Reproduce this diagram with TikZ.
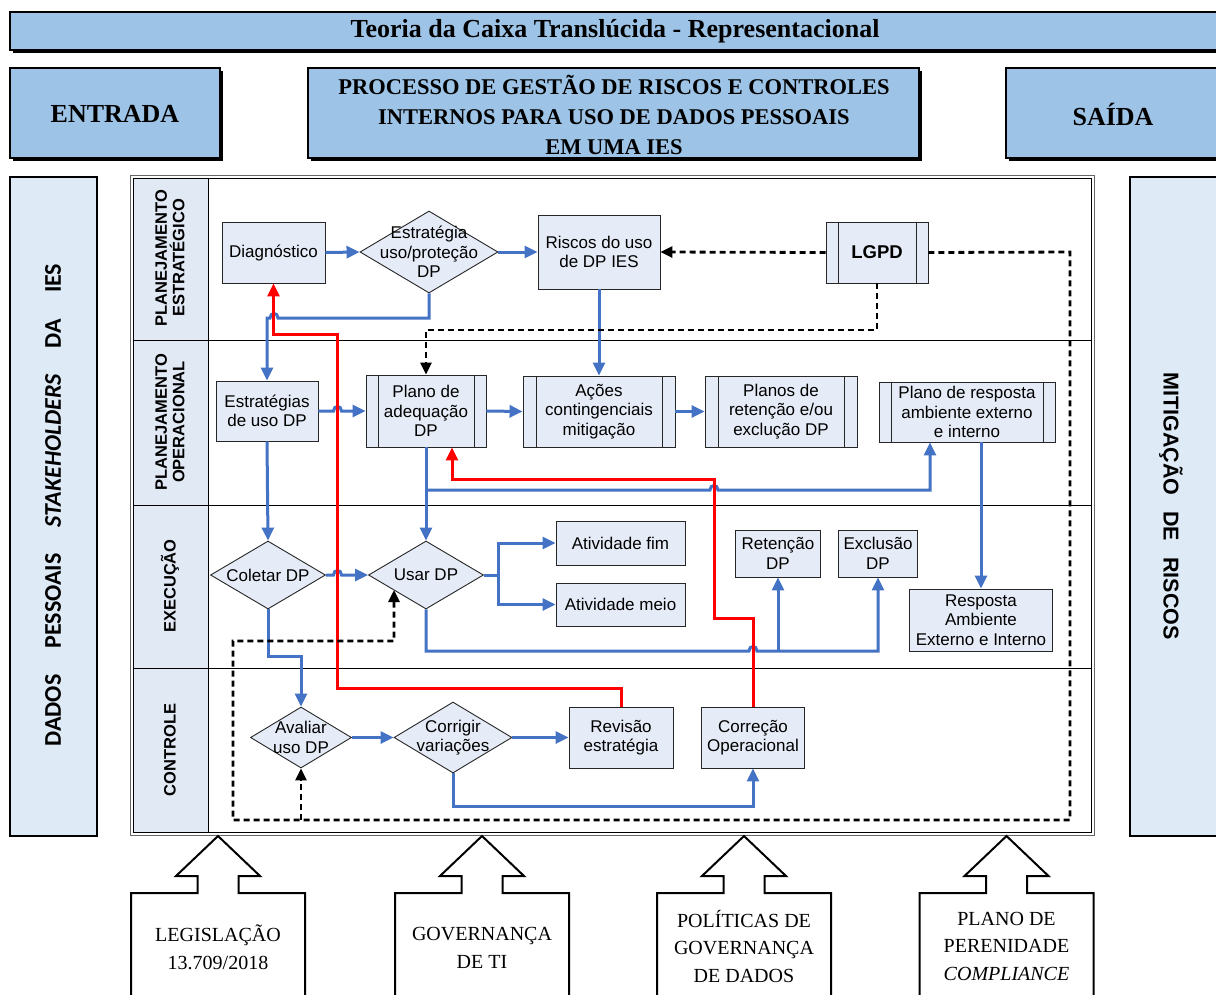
\documentclass[tikz,border=0pt]{standalone}
\usepackage{fontspec}
\setmainfont{Liberation Serif}
\newfontfamily\arialf{Liberation Sans}
\newfontfamily\calibf{Carlito}
\usetikzlibrary{arrows.meta,shapes.geometric}
\definecolor{hdrblue}{RGB}{157,195,230}
\definecolor{sideblue}{RGB}{222,235,247}
\definecolor{nodefill}{RGB}{230,236,247}
\definecolor{lanefill}{RGB}{225,233,245}
\definecolor{flowblue}{RGB}{68,114,196}
\tikzset{
  hdrbox/.style={draw=black, line width=1.2pt, fill=hdrblue},
  sidebox/.style={draw=black, line width=1.8pt, fill=sideblue},
  proc/.style={rectangle, draw=black!85, line width=0.9pt, fill=nodefill, inner sep=0pt, align=center, font=\arialf\fontsize{17}{19.5}\selectfont},
  pp/.style={proc, path picture={
      \draw[black!85, line width=0.9pt] ([xshift=#1]path picture bounding box.north west) -- ([xshift=#1]path picture bounding box.south west)
        ([xshift=-#1]path picture bounding box.north east) -- ([xshift=-#1]path picture bounding box.south east);}},
  pp/.default=12pt,
  dia/.style={diamond, draw=black!85, line width=0.9pt, fill=nodefill, inner sep=0pt},
  dtxt/.style={align=center, inner sep=0pt, font=\arialf\fontsize{17}{19.5}\selectfont},
  flow/.style={draw=flowblue, line width=3pt, -{Triangle[length=13pt,width=12pt]}},
  flowline/.style={draw=flowblue, line width=3pt},
  redline/.style={draw=red, line width=3pt},
  redflow/.style={redline, -{Triangle[length=13pt,width=12pt]}},
  ctl/.style={draw=black, line width=2.8pt, dash pattern=on 6pt off 4pt},
  ctlflow/.style={ctl, -{Triangle[length=12pt,width=11pt]}},
  lanetxt/.style={rotate=90, align=center, font=\arialf\bfseries\fontsize{16.5}{17.5}\selectfont},
  bigarrow/.style={draw=black, line width=2pt, fill=white, line join=miter},
  bottxt/.style={align=center, font=\fontsize{20}{28}\selectfont},
  hdrtxt/.style={align=center, font=\bfseries\fontsize{26}{30}\selectfont},
}
\begin{document}
\begin{tikzpicture}[x=1pt,y=-1pt]
\useasboundingbox (0,0) rectangle (1216,994);
% headers
\fill (13,15) rectangle (1225,53);
\draw[hdrbox] (10,12) rectangle (1222,50);
\node[hdrtxt] (title) at (615,31) {Teoria da Caixa Translúcida - Representacional};
\fill (13,71) rectangle (223,161);
\draw[hdrbox] (10,68) rectangle (220,158);
\node[hdrtxt] (entrada) at (115,114) {ENTRADA};
\fill (311,71) rectangle (922,161);
\draw[hdrbox] (308,68) rectangle (919,158);
\node[align=center, font=\bfseries\fontsize{22.5}{30}\selectfont] (proc) at (614,115) {PROCESSO DE GESTÃO DE RISCOS E CONTROLES\\INTERNOS PARA USO DE DADOS PESSOAIS\\EM UMA IES};
\fill (1009,71) rectangle (1225,161);
\draw[hdrbox] (1006,68) rectangle (1222,158);
\node[hdrtxt] (saida) at (1113,114) {SAÍDA};
% side boxes
\draw[sidebox] (10,177) rectangle (97,836);
\node[rotate=90, font=\calibf\bfseries\fontsize{24}{28}\selectfont] (lefttxt) at (53,505) {DADOS\hspace{26pt}PESSOAIS\hspace{26pt}\textit{STAKEHOLDERS}\hspace{26pt}DA\hspace{26pt}IES};
\draw[sidebox] (1130,177) rectangle (1222,836);
\node[rotate=-90, font=\arialf\bfseries\fontsize{21.5}{24}\selectfont] (righttxt) at (1171,506) {MITIGAÇÃO\hspace{16pt}DE\hspace{16pt}RISCOS};
% pool
\draw[black!60, line width=1pt] (130,175) rectangle (1094,835);
\draw[black, line width=1pt, fill=white] (133,178) rectangle (1091,832);
\draw[black, line width=1pt, fill=lanefill] (133,178) rectangle (208,832);
\foreach \yy in {340,505,668} \draw[black, line width=1pt] (133,\yy) -- (1091,\yy);
\node[lanetxt] (l1) at (170,258) {PLANEJAMENTO\\ESTRATÉGICO};
\node[lanetxt] (l2) at (170,422) {PLANEJAMENTO\\OPERACIONAL};
\node[lanetxt] (l3) at (170,586) {EXECUÇÃO};
\node[lanetxt] (l4) at (170,750) {CONTROLE};
% nodes lane 1
\node[proc, minimum width=103pt, minimum height=61pt] (diag) at (273.5,252.5) {Diagnóstico};
\node[dia, minimum width=138pt, minimum height=82pt] (estr) at (429,252) {};
\node[dtxt] (estrt) at (429,252) {Estratégia\\uso/proteção\\DP};
\node[proc, minimum width=122pt, minimum height=74pt] (riscos) at (599,252) {Riscos do uso\\de DP IES};
\node[pp, minimum width=102pt, minimum height=61pt, font=\arialf\bfseries\fontsize{18.5}{20}\selectfont] (lgpd) at (877,252.5) {LGPD};
% lane 2
\node[proc, minimum width=102pt, minimum height=60pt] (estrat) at (267,411) {Estratégias\\de uso DP};
\node[pp, minimum width=120pt, minimum height=72pt] (plano) at (426,411) {Plano de\\adequação\\DP};
\node[pp=13pt, minimum width=152pt, minimum height=71pt] (acoes) at (599,411.5) {Ações\\contingenciais\\mitigação};
\node[pp=13pt, minimum width=152pt, minimum height=71pt] (planosret) at (781,411.5) {Planos de\\retenção e/ou\\exclução DP};
\node[pp, minimum width=176pt, minimum height=60pt] (planoresp) at (967,412) {Plano de resposta\\ambiente externo\\e interno};
% lane 3
\node[dia, minimum width=115pt, minimum height=68pt] (coletar) at (268,575) {};
\node[dtxt] (coletart) at (268,575) {Coletar DP};
\node[dia, minimum width=115pt, minimum height=68pt] (usar) at (426,575) {};
\node[dtxt] (usart) at (426,575) {Usar DP};
\node[proc, minimum width=129pt, minimum height=44pt] (ativfim) at (620.5,543) {Atividade fim};
\node[proc, minimum width=129pt, minimum height=43pt] (ativmeio) at (620.5,604.5) {Atividade meio};
\node[proc, minimum width=85pt, minimum height=47pt] (retencao) at (778,553.5) {Retenção\\DP};
\node[proc, minimum width=79pt, minimum height=47pt] (exclusao) at (878,553.5) {Exclusão\\DP};
\node[proc, minimum width=143pt, minimum height=62pt] (resposta) at (981,620) {Resposta\\Ambiente\\Externo e Interno};
% lane 4
\node[dia, minimum width=101pt, minimum height=61pt] (avaliar) at (301,737.5) {};
\node[dtxt] (avaliart) at (301,737.5) {Avaliar\\uso DP};
\node[dia, minimum width=118pt, minimum height=71pt] (corrigir) at (453,737.5) {};
\node[dtxt] (corrigirt) at (453,737.5) {Corrigir\\variações};
\node[proc, minimum width=104pt, minimum height=61pt] (revisao) at (621,737.5) {Revisão\\estratégia};
\node[proc, minimum width=103pt, minimum height=61pt] (correcao) at (753,737.5) {Correção\\Operacional};
% blue flows
\draw[flow] (diag.east) -- (estr.west);
\draw[flow] (estr.east) -- (riscos.west);
\draw[flow] (estr.south) -- (estr.south |- 0,318) -- (278,318) .. controls (278,312) and (270,312) .. (270,318) -- (estrat.north |- 0,318) -- (estrat.north);
\draw[flow] (riscos.south) -- (riscos.south |- acoes.north);
\draw[flow] (estrat.east) -- (333.5,411) .. controls (333.5,405) and (341.5,405) .. (341.5,411) -- (plano.west);
\draw[flow] (plano.east) -- (acoes.west);
\draw[flow] (acoes.east) -- (planosret.west);
\draw[flow] (plano.south) -- (usar.north);
\draw[flow] (plano.south |- 0,490) -- (710,490) .. controls (710,484) and (718,484) .. (718,490) -- (930,490) -- (930,490 |- planoresp.south);
\draw[flow] (estrat.south) -- (coletar.north);
\draw[flow] (coletar.east) -- (333.5,575) .. controls (333.5,569) and (341.5,569) .. (341.5,575) -- (usar.west);
\draw[flowline] (usar.east) -- (498,575);
\draw[flow] (498,575) |- (ativfim.west);
\draw[flow] (498,575) |- (ativmeio.west);
\draw[flow] (usar.south) -- (usar.south |- 0,651) -- (749,651) .. controls (749,645) and (757,645) .. (757,651) -- (exclusao.south |- 0,651) -- (exclusao.south);
\draw[flow] (retencao.south |- 0,651) -- (retencao.south);
\draw[flow] (resposta.north |- planoresp.south) -- (resposta.north);
\draw[flow] (coletar.south) -- (coletar.south |- 0,656) -| (avaliar.north);
\draw[flow] (avaliar.east) -- (corrigir.west);
\draw[flow] (corrigir.east) -- (revisao.west);
\draw[flow] (corrigir.south) -- (corrigir.south |- 0,806) -| (correcao.south);
% red flows
\draw[redflow] (revisao.north) -- (revisao.north |- 0,688) -- (337.5,688) -- (337.5,334) -- (diag.south |- 0,334) -- (diag.south);
\draw[redflow] (correcao.north) -- (correcao.north |- 0,618) -- (714,618) -- (714,479) -- (452,479) -- (452,479 |- plano.south);
% dashed control
\draw[ctlflow] (lgpd.west) -- (riscos.east);
\draw[ctlflow] (lgpd.south) -- (lgpd.south |- 0,330) -- (plano.north |- 0,330) -- (plano.north);
\draw[ctlflow] (lgpd.east) -- (1070,252) -- (1070,820) -- (233,820) -- (233,641) -- (394,641) -- (394,590);
\draw[ctlflow] (avaliar.south |- 0,820) -- (avaliar.south);
% bottom arrows
\foreach \c in {218, 482, 744, 1006.5}{
  \draw[bigarrow] (\c-87,1000) -- (\c-87,893) -- (\c-20.5,893) -- (\c-20.5,876) -- (\c-42,876) -- (\c,836) -- (\c+42,876) -- (\c+20.5,876) -- (\c+20.5,893) -- (\c+87,893) -- (\c+87,1000);
}
\node[bottxt] (t1) at (218,947.5) {LEGISLAÇÃO\\13.709/2018};
\node[bottxt] (t2) at (482,947.5) {GOVERNANÇA\\DE TI};
\node[bottxt, font=\fontsize{20}{27.5}\selectfont] (t3) at (744,946) {POLÍTICAS DE\\GOVERNANÇA\\DE DADOS};
\node[bottxt, font=\fontsize{20}{27.5}\selectfont] (t4) at (1006.5,946) {PLANO DE\\PERENIDADE\\\textit{COMPLIANCE}};
\end{tikzpicture}
\end{document}
